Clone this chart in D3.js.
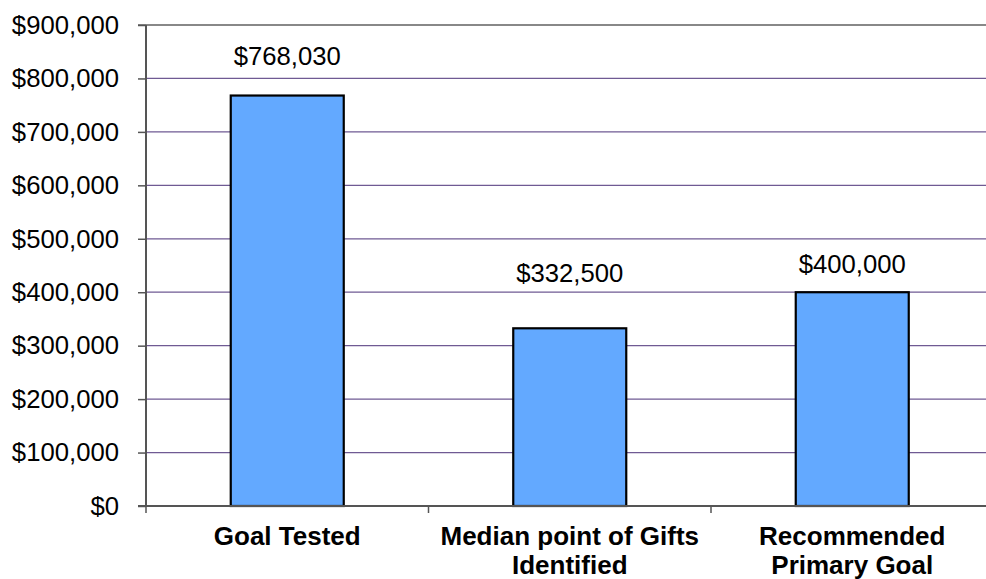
<!DOCTYPE html>
<html><head><meta charset="utf-8">
<script src="https://cdn.jsdelivr.net/npm/d3@7"></script>
<style>html,body{margin:0;padding:0;background:#fff;overflow:hidden}</style>
</head><body>
<svg id="c" width="986" height="579"></svg>
<script>
const categories = [["Goal Tested"], ["Median point of Gifts", "Identified"], ["Recommended", "Primary Goal"]];
const values = [768030, 332500, 400000];
const valueLabels = ["$768,030", "$332,500", "$400,000"];
const yTicks = [0, 100000, 200000, 300000, 400000, 500000, 600000, 700000, 800000, 900000];

(function () {
const svg = d3.select("#c");
const pLeft = 146, pRight = 993.5, pTop = 25, pBottom = 506;
const x = d3.scaleBand().domain(d3.range(values.length)).range([pLeft, pRight]).paddingInner(0.6).paddingOuter(0.3);
const xb = d3.scaleBand().domain(d3.range(values.length)).range([pLeft, pRight]);
const y = d3.scaleLinear().domain([0, 900000]).range([pBottom, pTop]);
const fmt = v => "$" + d3.format(",")(v);
const font = "Liberation Sans, Arial, sans-serif";

// gridlines
svg.append("g").selectAll("line").data(yTicks.filter(t => t > 0 && t < 900000)).join("line")
  .attr("x1", pLeft).attr("x2", 986).attr("y1", d => y(d)).attr("y2", d => y(d))
  .attr("stroke", "#6f5a93").attr("stroke-width", 1.2);
svg.append("line").attr("x1", pLeft - 8).attr("x2", 986).attr("y1", y(900000)).attr("y2", y(900000))
  .attr("stroke", "#888").attr("stroke-width", 2.2);

// y axis
const yAxis = d3.axisLeft(y).tickValues(yTicks).tickFormat(fmt).tickSize(8).tickPadding(19);
const gy = svg.append("g").attr("transform", `translate(${pLeft},0)`).call(yAxis);
gy.select(".domain").attr("stroke", "#555").attr("stroke-width", 2).attr("d", `M0,${pTop}V${pBottom}`);
gy.selectAll(".tick line").attr("stroke", "#555").attr("stroke-width", 1.5);
gy.selectAll(".tick text").attr("font-family", font).attr("font-size", 25.7).attr("fill", "#000");

// bars
svg.append("g").selectAll("rect").data(values).join("rect")
  .attr("x", (d, i) => x(i)).attr("width", x.bandwidth())
  .attr("y", d => y(d)).attr("height", d => y(0) - y(d))
  .attr("fill", "#63a9ff").attr("stroke", "#000").attr("stroke-width", 2.2);

// baseline
svg.append("line").attr("x1", pLeft - 8).attr("x2", 986).attr("y1", pBottom).attr("y2", pBottom)
  .attr("stroke", "#555").attr("stroke-width", 2.2);
// category tick marks
svg.append("g").selectAll("line").data(d3.range(values.length)).join("line")
  .attr("x1", i => xb(i)).attr("x2", i => xb(i)).attr("y1", pBottom).attr("y2", pBottom + 7)
  .attr("stroke", "#555").attr("stroke-width", 1.5);

// value labels (Excel manual placement nudges)
const nudge = [30.8, 46.7, 19.4];
svg.append("g").selectAll("text").data(values).join("text")
  .attr("x", (d, i) => x(i) + x.bandwidth() / 2).attr("y", (d, i) => y(d) - nudge[i])
  .attr("text-anchor", "middle").attr("font-family", font).attr("font-size", 25.7)
  .text((d, i) => valueLabels[i]);

// category labels
const cg = svg.append("g").selectAll("text").data(categories).join("text")
  .attr("text-anchor", "middle").attr("font-family", font).attr("font-size", 26).attr("font-weight", "bold")
  .attr("x", (d, i) => x(i) + x.bandwidth() / 2).attr("y", 544.5);
cg.selectAll("tspan").data(d => d).join("tspan")
  .attr("x", function () { return this.parentNode.getAttribute("x"); })
  .attr("dy", (d, j) => j === 0 ? 0 : 29).text(d => d);
})();
</script>
</body></html>
